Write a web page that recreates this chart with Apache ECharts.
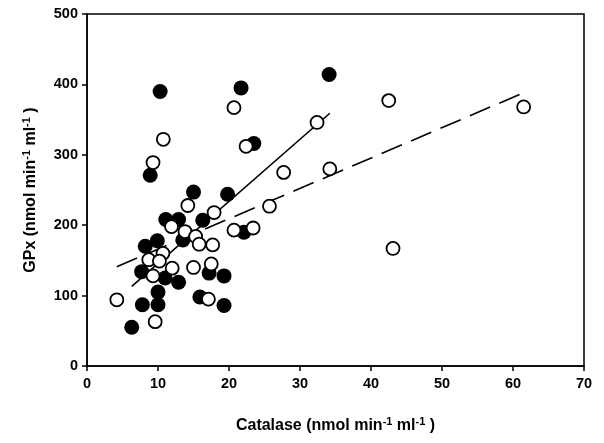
<!DOCTYPE html>
<html><head><meta charset="utf-8">
<script src="https://cdn.jsdelivr.net/npm/echarts@6/dist/echarts.min.js"></script>
<style>html,body{margin:0;padding:0;background:#fff}#c{width:604px;height:443px}</style>
</head><body><div id="c"></div>
<script>
// Filled circles: [catalase, GPx]
const filledX = [10.3,21.7,34.1,23.5,8.9,15.0,19.8,11.1,12.9,16.3,22.1,9.9,8.2,13.5,7.7,11.0,12.9,17.2,19.3,10.0,7.8,10.0,15.9,19.3,6.3];
const filledY = [390,395,414,316,271,247,244,208,208,207,190,178,170,179,134,125,119,132,128,105,87,87,98,86,55];
// Open circles
const openX = [20.7,10.75,22.4,9.3,42.5,61.5,32.4,27.7,34.2,25.7,23.4,43.1,14.2,17.9,11.9,20.7,13.8,15.3,15.8,17.7,10.7,8.7,10.2,12.0,15.0,17.5,9.3,4.2,17.1,9.6];
const openY = [367,322,312,289,377,368,346,275,280,227,196,167,228,218,198,193,191,184,173,172,160,151,149,139,140,145,128,94,95,63];
// Regression lines (endpoints)
const solidLineX = [6.3, 34.2];
const solidLineY = [113, 359];
const dashLineX = [4.2, 61.7];
const dashLineY = [141, 389];
const xTicks = [0,10,20,30,40,50,60,70];
const yTicks = [0,100,200,300,400,500];

const zip = (a,b)=>a.map((v,i)=>[v,b[i]]);
const font = '"Liberation Sans", Arial, sans-serif';
const rich = {sup:{fontSize:11, fontWeight:'bold', fontFamily:font, verticalAlign:'top', padding:[0,0,9,0], color:'#000'}};
const chart = echarts.init(document.getElementById('c'), null, {renderer:'canvas'});
chart.setOption({
  animation:false,
  grid:{left:87,right:20,top:14,bottom:77,show:true,borderColor:'#000',borderWidth:1.5},
  xAxis:{type:'value',min:xTicks[0],max:xTicks[xTicks.length-1],interval:10,
    name:'Catalase (nmol min{sup|-1} ml{sup|-1} )',nameLocation:'middle',nameGap:50,
    nameTextStyle:{fontFamily:font,fontWeight:'bold',fontSize:16,color:'#000',rich},
    axisLine:{lineStyle:{color:'#000',width:1.5}},axisTick:{show:true,inside:false,length:5,lineStyle:{color:'#000',width:1.5}},
    axisLabel:{fontFamily:font,fontWeight:'bold',fontSize:14.5,color:'#000',margin:10},splitLine:{show:false}},
  yAxis:{type:'value',min:yTicks[0],max:yTicks[yTicks.length-1],interval:100,
    name:'GPx (nmol min{sup|-1} ml{sup|-1} )',nameLocation:'middle',nameGap:46,nameRotate:90,
    nameTextStyle:{fontFamily:font,fontWeight:'bold',fontSize:16,color:'#000',rich},
    axisLine:{lineStyle:{color:'#000',width:1.5}},axisTick:{show:true,inside:false,length:5,lineStyle:{color:'#000',width:1.5}},
    axisLabel:{fontFamily:font,fontWeight:'bold',fontSize:14.5,color:'#000',margin:9},splitLine:{show:false}},
  series:[
    {type:'line',data:zip(solidLineX,solidLineY),symbol:'none',lineStyle:{color:'#000',width:1.6},z:1},
    {type:'line',data:zip(dashLineX,dashLineY),symbol:'none',lineStyle:{color:'#000',width:1.6,type:[22,10]},z:1},
    {type:'scatter',data:zip(filledX,filledY),symbol:'circle',symbolSize:15,itemStyle:{color:'#000',borderColor:'#000',borderWidth:0,opacity:1},z:2},
    {type:'scatter',data:zip(openX,openY),symbol:'circle',symbolSize:13,itemStyle:{color:'#fff',borderColor:'#000',borderWidth:1.8,opacity:1},z:3}
  ]
});
</script></body></html>
